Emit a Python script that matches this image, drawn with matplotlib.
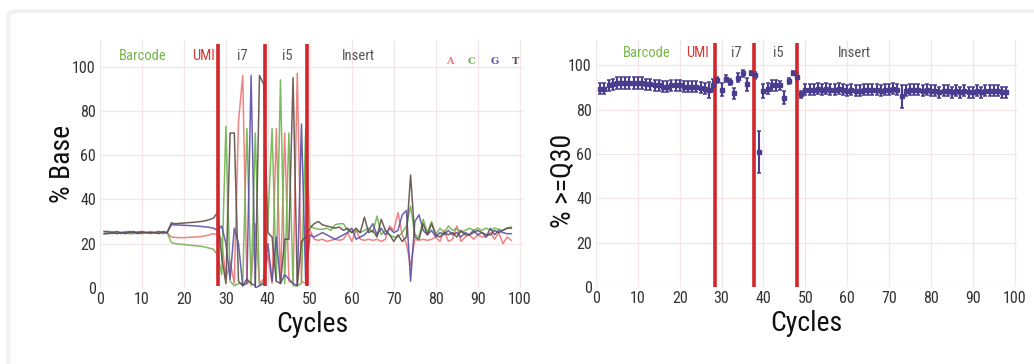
import numpy as np
import matplotlib
matplotlib.use("Agg")
from matplotlib import pyplot as plt
from matplotlib.patches import FancyBboxPatch

# cycles 1..98
cycles = np.arange(1, 99)

# % base composition per cycle
base_A = [25.5, 25, 25.5, 25, 25, 25.5, 25, 25, 25.5, 25, 25, 25.5, 25, 25, 25, 25,
          23, 22.8, 22.7, 22.7, 22.8, 23, 23, 23.2, 23.5, 24, 24.5,
          24, 22, 4, 12, 2, 75, 96, 2, 3, 29, 2, 4, 15, 2, 72, 2, 70, 3, 2, 97, 3, 2,
          26, 22, 21.5, 22, 21, 21.5, 22, 21.5, 22, 25, 21, 26, 22, 21.5, 22, 21.5, 22, 21,
          22, 28, 26, 34, 24, 20, 10, 22, 21.5, 22, 21.5, 22, 23, 21, 26, 21, 22, 28, 21,
          23, 24, 22, 24, 23, 23, 25, 22, 25, 20, 23, 21.5]
base_C = [24.5, 25, 24.5, 25, 24.5, 25, 24.5, 24.5, 25, 24.5, 25, 24.5, 25, 25, 24.5, 25,
          20.5, 20, 19.8, 19.6, 19.4, 19.2, 19, 18.8, 18.5, 18, 17.5,
          15, 6, 73, 3, 1, 2, 2, 72, 1, 70, 1, 3, 30, 72, 3, 94, 2, 70, 1, 1, 2, 72,
          28, 27, 26.5, 26.5, 27, 26, 28.5, 29, 29, 26, 25, 26, 25, 26, 27, 25, 32.5, 24,
          26, 24, 23, 23, 25, 28, 37, 24, 23, 31, 25, 30, 24, 27, 25, 28, 26, 27, 25,
          26, 27, 26, 27, 26, 27, 26, 27, 26.5, 26, 27, 27.5]
base_G = [25.5, 25.5, 25, 25.5, 25, 25, 25.5, 25, 25, 25.5, 25, 25, 25, 25.5, 25, 25,
          28.5, 28.5, 28.4, 28.3, 28.2, 28.1, 28, 27.8, 27.6, 27.4, 27,
          26, 28, 20, 4, 27, 20, 1, 2, 96, 0, 1, 2, 20, 3, 23, 2, 6, 4, 2, 1, 74, 3,
          24, 23, 24, 25, 24, 23, 22, 23, 24, 25, 27, 22, 23, 24, 26, 29, 24, 27,
          24, 27, 25, 26, 33, 35, 3, 30, 33, 26, 24, 26, 23, 25, 24, 26, 24, 25, 23,
          25, 24, 26, 24, 25, 23, 27, 24, 26, 25, 24.5, 24.5]
base_T = [24.5, 24.5, 25, 24.5, 25, 24.5, 25, 25.5, 24.5, 25, 25, 25, 25, 24.5, 25.5, 25,
          29.4, 29, 29.2, 29.3, 29.5, 29.6, 29.8, 30, 30.3, 30.8, 31.5,
          34, 14, 2, 70, 70, 3, 1, 4, 2, 1, 96, 92, 25, 23, 3, 2, 22, 22, 95, 1, 21, 23,
          27, 29, 30, 28.5, 28, 27.5, 27, 27.5, 26, 27, 25, 27, 25, 32, 25, 26, 23, 31,
          26, 24, 21, 24, 21, 23, 51, 23, 22, 29, 24, 29, 24, 23, 25, 24, 25, 23, 26,
          24, 24, 25, 26, 25, 24, 24, 26, 25, 26, 27, 27]

# % >= Q30 per cycle (mean and spread)
q30_mean = [89.5, 89.5, 91, 91.5, 92, 92, 92, 92, 92, 92, 92, 91.5, 91.5, 91,
            91, 90.5, 90.5, 91, 91, 91, 90.5, 90.5, 90.5, 90.5, 90, 89.5, 89,
            91, 93.5, 89, 94, 92.5, 87.5, 94.5, 96.5, 91.5, 96.5, 95.5, 61, 88.5, 89.5,
            91, 91, 91, 85.5, 93, 96.5, 95, 87,
            89, 89, 89, 89.5, 89, 89.5, 89, 89, 89.5, 89, 88.5, 89, 88.5, 88.5, 89, 89,
            89, 89, 88.5, 89, 89, 89.5, 89, 86, 88.5, 89, 89, 89, 88.5, 89, 88.5, 88.5, 88,
            88.5, 88.5, 88, 88.5, 88, 88.5, 88, 88, 88.5, 88, 88.5, 88.5, 88.5, 88.5, 88, 88]
q30_err = [2.6] * 26 + [3.5, 3, 1.5, 3, 1.5, 1.5, 2.5, 2, 1.5, 3, 1, 1.5, 9.5, 3, 2.5,
                        2.5, 2.5, 2, 3, 1.5, 1, 1.5, 1.5] + [2.5] * 23 + [5] + [2.5] * 25

# read segments
seg_names = ['Barcode', 'UMI', 'i7', 'i5', 'Insert']
seg_colors = ['#78b648', '#d23a35', '#555555', '#555555', '#555555']
seg_pos_left = [10.3, 24.6, 34, 44.7, 61.5]
seg_pos_right = [12.2, 24.2, 33.6, 43.6, 61.6]
bounds_left = [28.2, 39.4, 49.2]
bounds_right = [28.4, 37.7, 48.0]

bases = ['A', 'C', 'G', 'T']
base_colors = ['#f07575', '#6db54f', '#5c4fa8', '#5e5049']

plt.rcParams['font.family'] = ['Roboto Condensed', 'DejaVu Sans']

grid_c = '#f3e6e6'
red = '#d1262b'

fig = plt.figure(figsize=(10.34, 3.64), dpi=100)
fig.patch.set_facecolor('white')
card = FancyBboxPatch((0.008, -0.2), 1.1, 1.17, boxstyle='round,pad=0,rounding_size=0.012',
                      transform=fig.transFigure, facecolor='white', edgecolor='#f1f1f1',
                      linewidth=3, zorder=-5)
fig.patches.append(card)

ax1 = fig.add_axes([0.0967, 0.209, 0.410, 0.681])
ax2 = fig.add_axes([0.5764, 0.212, 0.407, 0.678])


def style(ax, ylabel, ytop):
    for s in ax.spines.values():
        s.set_visible(False)
    ax.set_xlim(0, 101)
    ax.set_ylim(0, ytop)
    ax.set_xticks(range(0, 101, 10))
    ax.set_yticks(range(0, 101, 20))
    ax.grid(True, color=grid_c, linewidth=1)
    ax.set_axisbelow(True)
    ax.tick_params(length=0, labelsize=11.5, labelcolor='#333333', pad=3)
    ax.set_xlabel('Cycles', fontsize=20, color='#111111', labelpad=3)
    ax.set_ylabel(ylabel, fontsize=20, color='#111111', labelpad=-3)


style(ax1, '% Base', 112)
style(ax2, '% >=Q30', 111.5)
ax2.set_xlim(0, 100.5)
ax2.yaxis.set_label_coords(-0.045, 0.43)

for name, vals, col in zip(bases, [base_A, base_C, base_G, base_T], base_colors):
    ax1.plot(cycles, vals, color=col, linewidth=1.1, alpha=0.9)

ax1.vlines(bounds_left, 1, 110, color=red, linewidth=2.6)
for name, x, col in zip(seg_names, seg_pos_left, seg_colors):
    ax1.text(x, 105, name, color=col, fontsize=10.5, ha='center', va='center')

for b, col, xf in zip(bases, base_colors, [0.825, 0.877, 0.931, 0.981]):
    ax1.text(xf, 0.915, b, color=col, fontsize=7, fontweight='bold',
             family='DejaVu Serif', transform=ax1.transAxes, ha='center', va='center')

ax2.errorbar(cycles, q30_mean, yerr=q30_err, fmt='s', color='#4a3d8f', markersize=3.2,
             elinewidth=1.5, capsize=1.4, capthick=1.1)
ax2.vlines(bounds_right, 0, 110, color=red, linewidth=2.6)
for name, x, col in zip(seg_names, seg_pos_right, seg_colors):
    ax2.text(x, 105.5, name, color=col, fontsize=10.5, ha='center', va='center')

fig.savefig('out.png', dpi=100)
